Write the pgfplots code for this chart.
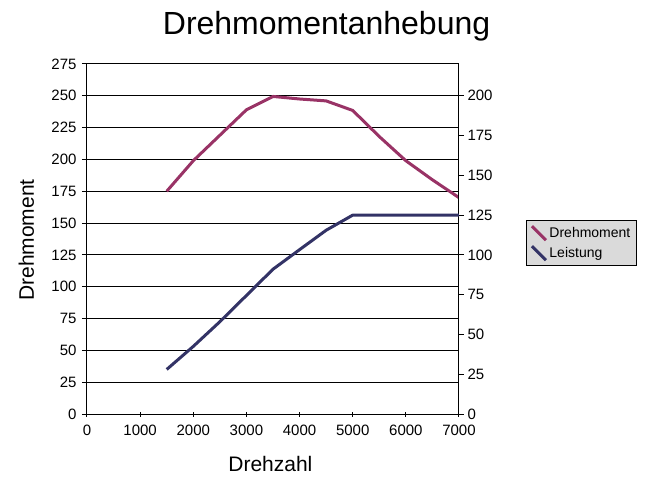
\documentclass[border=0pt]{standalone}
\usepackage{pgfplots}
\pgfplotsset{compat=1.18}
\usepackage{fontspec}
\setmainfont{Liberation Sans}
\definecolor{dm}{RGB}{153,51,102}
\definecolor{ls}{RGB}{51,51,102}
\definecolor{lg}{RGB}{218,218,218}
\begin{document}
\begin{tikzpicture}
\pgfplotsset{every axis/.append style={
  scale only axis, width=372pt, height=350pt,
  xmin=0, xmax=7000,
  at={(0,0)}, anchor=south west,
  /pgf/number format/assume math mode=true,
  /pgf/number format/set thousands separator={},
  tick label style={font=\fontsize{15}{17}\selectfont, black},
  major tick length=5pt,
  tick style={black, line width=1pt},
}}
\begin{axis}[
  ymin=0, ymax=275,
  ytick={0,25,...,275},
  xtick={0,1000,...,7000},
  xtick pos=bottom, ytick pos=left,
  xtick align=center, ytick align=outside,
  axis line style={black, line width=1pt},
  ymajorgrids, grid style={black, line width=1pt},
  title={Drehmomentanhebung},
  title style={font=\fontsize{32}{36}\selectfont, at={(axis description cs:0.644,1.0666)}, anchor=base},
  xlabel={Drehzahl},
  xlabel style={font=\fontsize{21}{24}\selectfont, at={(axis description cs:0.493,-0.163)}, anchor=base},
  ylabel={Drehmoment},
  ylabel style={font=\fontsize{21}{24}\selectfont, at={(axis description cs:-0.1425,0.497)}, anchor=base},
  yticklabel style={xshift=-2pt},
  xticklabel style={yshift=-5pt},
]
\addplot[dm, line width=3pt, line join=round] coordinates {
 (1500,175) (2000,199) (2500,219) (3000,239) (3500,249.5) (4000,247.5)
 (4500,246) (5000,238.5) (5500,218) (6000,199) (6500,184) (7000,170)
};
\end{axis}
\begin{axis}[
  ymin=0, ymax=220,
  ytick={0,25,...,200},
  axis x line=none,
  axis y line*=right,
  ytick align=outside,
  axis line style={black, line width=1pt, -},
  yticklabel style={xshift=0pt},
  legend style={at={(axis description cs:1.18,0.554)}, anchor=north west,
    fill=lg, draw=black, line width=1pt,
    font=\fontsize{14}{16}\selectfont,
    row sep=3pt, inner xsep=4pt, inner ysep=4pt},
  legend cell align=left,
  legend image code/.code={\draw[#1] (0pt,7pt) -- (14pt,-7pt);},
]
\addlegendimage{dm, line width=3pt}
\addlegendentry{Drehmoment}
\addplot[ls, line width=3pt, line join=round] coordinates {
 (1500,28) (2000,42.5) (2500,58) (3000,74.5) (3500,91) (4000,103.3)
 (4500,115.5) (5000,125) (5500,125) (6000,125) (6500,125) (7000,125)
};
\addlegendentry{Leistung}
\end{axis}
\pgfresetboundingbox
\path (-87pt,-73pt) rectangle (568pt,414pt);
\end{tikzpicture}
\end{document}
